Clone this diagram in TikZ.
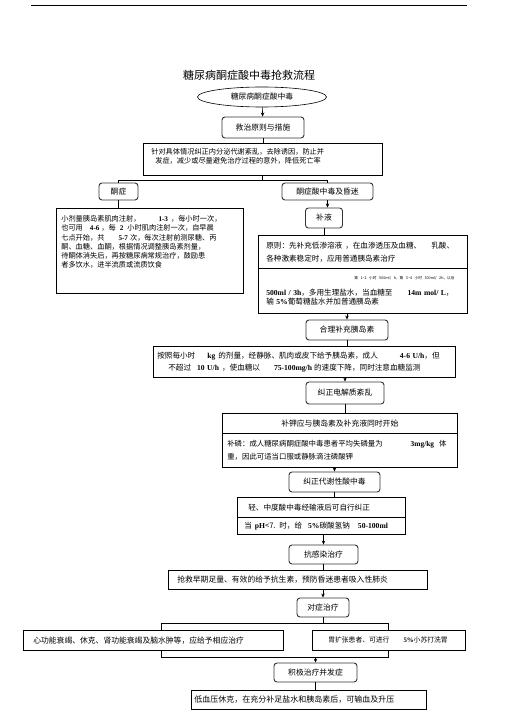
\documentclass[tikz,border=0pt]{standalone}
\usepackage{fontspec}
\setmainfont{Noto Sans CJK SC}
\newfontfamily\nmfont{Liberation Serif}
\newcommand\nm[1]{{\nmfont\bfseries #1}}
\usetikzlibrary{arrows.meta,shapes.geometric}
\tikzset{
  hd/.style={draw=black!80, line width=0.9pt, rounded corners=3pt, inner sep=1pt},
  bx/.style={draw, fill=white, anchor=north west, align=left, inner ysep=0pt},
}

\begin{document}
\begin{tikzpicture}[x=1pt,y=-1pt,>={Stealth[length=4pt,width=3.5pt]},line width=0.6pt,font=\fontsize{7.8}{9.5}\selectfont]
\useasboundingbox (0,0) rectangle (505,714);
\draw[line width=1pt] (31,6) -- (467,6);
\node[font=\fontsize{11}{13}\selectfont] (t) at (249,75) {糖尿病酮症酸中毒抢救流程};
\node[draw, ellipse, minimum width=129pt, minimum height=20pt, inner sep=0pt] (e) at (262,97) {糖尿病酮症酸中毒};
\node[hd, minimum width=82pt, minimum height=21pt] (a) at (263,127.5) {救治原则与措施};
\node[bx, text width=223pt, inner xsep=8pt, minimum height=32pt, font=\fontsize{7.2}{9}\selectfont] (b) at (143,143)
  {针对具体情况纠正内分泌代谢紊乱，去除诱因，防止并\\\hspace*{4pt}发症，减少或尽量避免治疗过程的意外，降低死亡率\\[-2pt]\mbox{}};
\draw[->] (e) -- (a);
\draw (a) -- (a |- b.north);

\coordinate (x1) at (262,180);
\node[hd, minimum width=39pt, minimum height=17pt] (c) at (118.5,191.5) {酮症};
\node[hd, minimum width=91pt, minimum height=17pt] (f) at (327.5,191.5) {酮症酸中毒及昏迷};
\draw (b.south -| x1) -- (x1);
\draw (c |- x1) -- (f |- x1);
\draw (c |- x1) -- (c);
\draw (f |- x1) -- (f);

\node[bx, text width=177pt, inner xsep=5pt, minimum height=85pt, font=\fontsize{7.2}{9.2}\selectfont] (d) at (56,208)
  {小剂量胰岛素肌肉注射，\kern18pt\nm{1-3}\kern3pt，每小时一次，\\
   也可用\kern7pt\nm{4-6}\kern2pt，每\kern4pt\nm{2}\kern4pt小时肌肉注射一次，自早晨\\
   七点开始，共\kern14pt\nm{5-7}\kern2pt次，每次注射前测尿糖、丙\\
   酮、血糖、血酮，根据情况调整胰岛素剂量，\\
   待酮体消失后，再按糖尿病常规治疗，鼓励患\\
   者多饮水，进半流质或流质饮食\\[9pt]\mbox{}};
\draw (c) -- (c |- d.north);

\node[hd, minimum width=37pt, minimum height=20pt] (g) at (324,218) {补液};
\draw[->] (f) -- (f |- g.north);
\node[bx, text width=193pt, inner xsep=8pt, minimum height=33pt, font=\fontsize{7.6}{13}\selectfont] (h1) at (258,235)
  {原则：先补充低渗溶液\kern3pt，在血渗透压及血糖、\kern10pt 乳酸、\\各种激素稳定时，应用普通胰岛素治疗};
\node[bx, text width=193pt, inner xsep=8pt, minimum height=45pt, font=\fontsize{7.6}{9.5}\selectfont] (h2) at (258,268)
  {\hspace*{88pt}{\fontsize{3.7}{4.5}\selectfont 第~1\textasciitilde2~小时~500ml/~h，第~3\textasciitilde4~小时~300ml/~2h，以后}\\[6pt]
   \nm{500ml / 3h}，多用生理盐水，当血糖至\kern15pt\nm{14m mol/ L}，\\
   输 \nm{5\%}葡萄糖盐水并加普通胰岛素};
\draw (g) -- (g |- h1.north);

\node[hd, minimum width=82pt, minimum height=20pt] (i) at (347,330) {合理补充胰岛素};
\draw[->] (i |- h2.south) -- (i);
\node[bx, text width=294pt, inner xsep=4pt, minimum height=31pt, font=\fontsize{7.6}{12}\selectfont] (j) at (153,346)
  {按照每小时\kern12pt\nm{kg}\kern3pt 的剂量，经静脉、肌肉或皮下给予胰岛素，成人\kern22pt\nm{4-6 U/h}，但\\
   \hspace*{11pt}不超过\kern6pt\nm{10 U/h}\kern3pt，使血糖以\kern14pt\nm{75-100mg/h}\kern2pt 的速度下降，同时注意血糖监测};
\draw (i) -- (i |- j.north);

\node[hd, minimum width=78pt, minimum height=22pt] (k) at (345,393) {纠正电解质紊乱};
\draw[->] (k |- j.south) -- (k);
\node[bx, text width=235pt, inner xsep=0pt, minimum height=20pt, align=center] (l1) at (222,413) {补钾应与胰岛素及补充液同时开始};
\node[bx, text width=225pt, inner xsep=5pt, minimum height=34pt, font=\fontsize{7.4}{13}\selectfont] (l2) at (222,433)
  {补磷：成人糖尿病酮症酸中毒患者平均失磷量为\kern28pt\nm{3mg/kg}\kern5pt 体\\重，因此可适当口服或静脉滴注磷酸钾};
\draw (k) -- (k |- l1.north);

\node[hd, minimum width=91pt, minimum height=20pt] (m) at (334.5,482) {纠正代谢性酸中毒};
\draw[->] (m |- l2.south) -- (m);
\node[bx, text width=146pt, inner xsep=11pt, minimum height=20pt, font=\fontsize{7.6}{9.5}\selectfont] (n1) at (237,497) {轻、中度酸中毒经输液后可自行纠正};
\node[bx, text width=154pt, inner xsep=7pt, minimum height=17pt, font=\fontsize{7.6}{9.5}\selectfont] (n2) at (237,517)
  {当\kern3pt\nm{pH}<7. 时，给\kern6pt\nm{5\%}碳酸氢钠\kern8pt\nm{50-100ml}};
\draw (m) -- (m |- n1.north);

\node[hd, minimum width=69pt, minimum height=19pt] (o) at (323.5,554.5) {抗感染治疗};
\draw[->] (o |- n2.south) -- (o);
\node[bx, text width=241pt, inner xsep=9pt, minimum height=19pt] (p) at (168,570) {抢救早期足量、有效的给予抗生素，预防昏迷患者吸入性肺炎};
\draw (o) -- (o |- p.north);

\node[hd, minimum width=52pt, minimum height=19pt] (q) at (323,607.5) {对症治疗};
\draw[->] (q |- p.south) -- (q);
\coordinate (x2) at (161,623);
\coordinate (x3) at (388,657);
\draw (q) -- (q |- x2);
\draw (x2) rectangle (x3);
\node[bx, text width=240pt, inner xsep=10pt, minimum height=20pt] (r) at (23,630) {心功能衰竭、休克、肾功能衰竭及脑水肿等，应给予相应治疗};
\node[bx, text width=121pt, inner xsep=16pt, minimum height=20pt, font=\fontsize{6.8}{9}\selectfont] (s) at (312,630) {胃扩张患者、可进行\kern14pt\nm{5\%}小苏打洗胃};

\node[hd, minimum width=83pt, minimum height=19pt] (u) at (315.5,672.5) {积极治疗并发症};
\draw[->] (u |- x3) -- (u);
\node[bx, text width=229pt, inner xsep=3pt, minimum height=19pt, font=\fontsize{8}{9.5}\selectfont] (v) at (191,690) {低血压休克，在充分补足盐水和胰岛素后，可输血及升压};
\draw (u) -- (u |- v.north);
\end{tikzpicture}
\end{document}
